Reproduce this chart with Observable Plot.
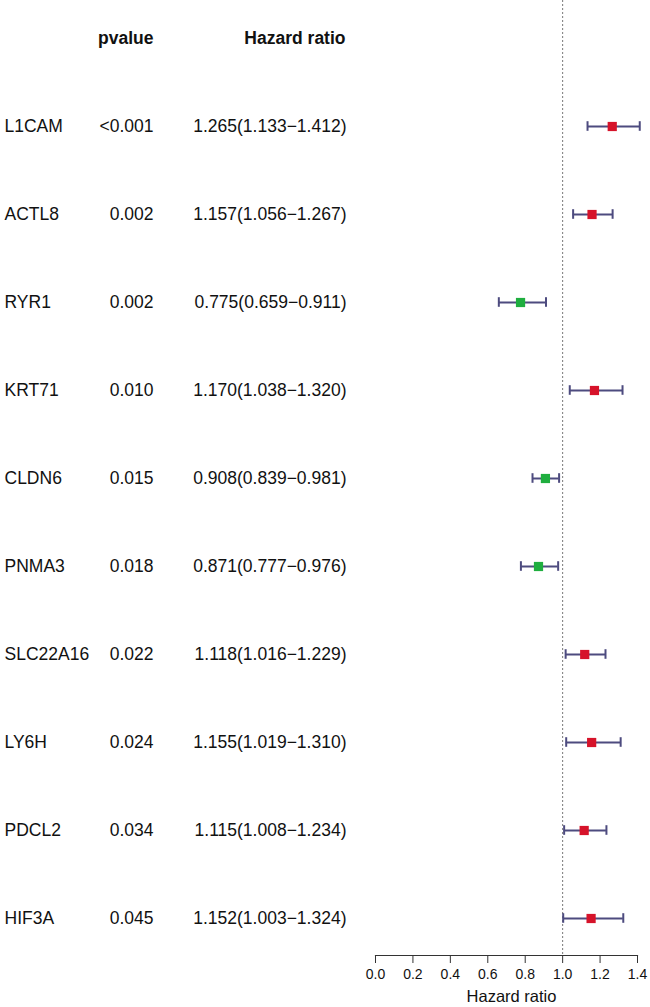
<!DOCTYPE html>
<html>
<head>
<meta charset="utf-8">
<script src="https://cdn.jsdelivr.net/npm/d3@7"></script>
<script src="https://cdn.jsdelivr.net/npm/@observablehq/plot@0.6"></script>
<style>
  html, body { margin: 0; padding: 0; background: #fff; }
  #chart svg { display: block; }
</style>
</head>
<body>
<div id="chart"></div>
<script>
const genes = ["L1CAM","ACTL8","RYR1","KRT71","CLDN6","PNMA3","SLC22A16","LY6H","PDCL2","HIF3A"];
const pvalues = ["<0.001","0.002","0.002","0.010","0.015","0.018","0.022","0.024","0.034","0.045"];
const hr = [1.265,1.157,0.775,1.170,0.908,0.871,1.118,1.155,1.115,1.152];
const lower = [1.133,1.056,0.659,1.038,0.839,0.777,1.016,1.019,1.008,1.003];
const upper = [1.412,1.267,0.911,1.320,0.981,0.976,1.229,1.310,1.234,1.324];
const xTicks = [0, 0.2, 0.4, 0.6, 0.8, 1.0, 1.2, 1.4];
const headers = {pvalue: "pvalue", hr: "Hazard ratio"};
const xLabel = "Hazard ratio";

const rows = genes.map((g, i) => ({
  gene: g, p: pvalues[i], hr: hr[i], lo: lower[i], hi: upper[i],
  label: `${hr[i].toFixed(3)}(${lower[i].toFixed(3)}\u2212${upper[i].toFixed(3)})`,
  risk: hr[i] >= 1 ? "high" : "low"
}));

const W = 650, H = 1007;
const mL = 375, mR = 13, mB = 52;
const first = 35.5, step = 88.4;
const domainY = ["header", ...genes];
const font = "'Liberation Sans', Arial, Helvetica, sans-serif";
const fs = 17.5;
const fmt = d3.format(".1f");

const chart = Plot.plot({
  width: W, height: H,
  marginLeft: mL, marginRight: mR, marginTop: 0, marginBottom: mB,
  style: {fontFamily: font, fontSize: "14px", color: "#111", background: "#fff"},
  x: {domain: [0, 1.4]},
  y: {type: "band", domain: domainY, range: [first - step / 2, first + step * (domainY.length - 0.5)], padding: 0, axis: null},
  color: {domain: ["high", "low"], range: ["#d6132a", "#1fae3f"]},
  marks: [
    Plot.ruleX([1], {stroke: "#777", strokeDasharray: "2,2", strokeWidth: 1}),
    Plot.frame({anchor: "bottom", stroke: "#333", strokeWidth: 1.2}),
    Plot.axisX({ticks: xTicks, tickFormat: () => "", tickSize: 8, label: null, stroke: "#333"}),
    Plot.text(xTicks, {x: d => d, text: d => fmt(d), frameAnchor: "bottom", dy: 19, fontSize: 14, lineAnchor: "middle", fill: "#111"}),
    Plot.text([xLabel], {text: d => d, frameAnchor: "bottom", dy: 41, dx: 5, fontSize: 16.5, lineAnchor: "middle"}),
    Plot.ruleY(rows, {y: "gene", x1: "lo", x2: "hi", stroke: "#4d4b7f", strokeWidth: 2}),
    Plot.tickX(rows, {y: "gene", x: "lo", stroke: "#4d4b7f", strokeWidth: 2, insetTop: step / 2 - 5, insetBottom: step / 2 - 5}),
    Plot.tickX(rows, {y: "gene", x: "hi", stroke: "#4d4b7f", strokeWidth: 2, insetTop: step / 2 - 5, insetBottom: step / 2 - 5}),
    Plot.dot(rows, {y: "gene", x: "hr", symbol: "square", r: 5.2, fill: "risk", stroke: "none"}),
    Plot.text(rows, {y: "gene", text: "gene", frameAnchor: "left", dx: 4 - mL, textAnchor: "start", fontSize: fs}),
    Plot.text(rows, {y: "gene", text: "p", frameAnchor: "left", dx: 153 - mL, textAnchor: "end", fontSize: fs}),
    Plot.text(rows, {y: "gene", text: "label", frameAnchor: "left", dx: 346 - mL, textAnchor: "end", fontSize: fs}),
    Plot.text([headers.pvalue], {y: () => "header", text: d => d, frameAnchor: "left", dx: 153 - mL, textAnchor: "end", fontSize: fs, fontWeight: "bold"}),
    Plot.text([headers.hr], {y: () => "header", text: d => d, frameAnchor: "left", dx: 345 - mL, textAnchor: "end", fontSize: fs, fontWeight: "bold"})
  ]
});
document.getElementById("chart").appendChild(chart);
</script>
</body>
</html>
